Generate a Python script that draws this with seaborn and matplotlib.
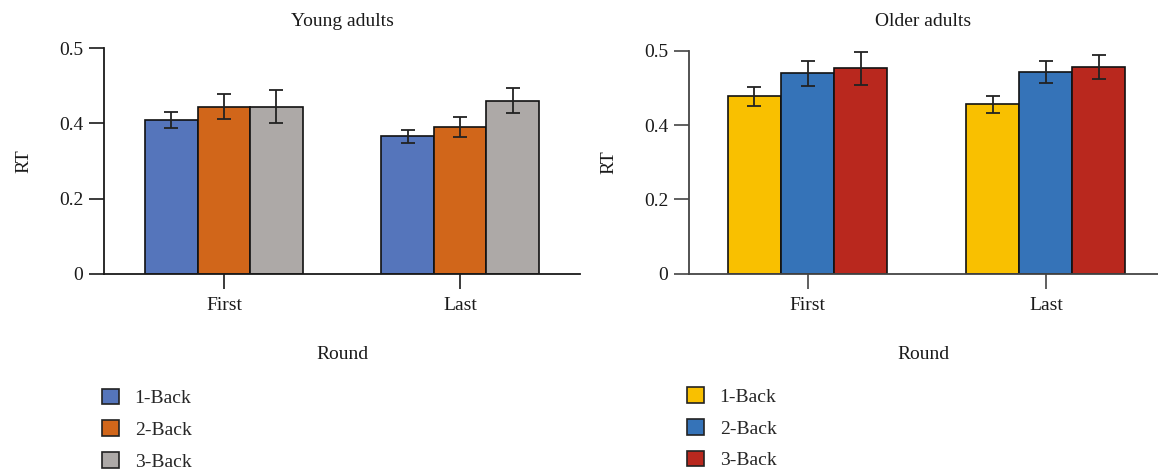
import numpy as np
import pandas as pd
import matplotlib
matplotlib.use("Agg")
import matplotlib.pyplot as plt
from matplotlib.patches import Patch
from matplotlib.ticker import FixedLocator, FuncFormatter
import seaborn as sns

# ---- data -------------------------------------------------------------
rounds = ["First", "Last"]
tasks = ["1-Back", "2-Back", "3-Back"]

# mean reaction time per task (rows) and round (columns)
young_rt = [[0.368, 0.329], [0.400, 0.351], [0.400, 0.414]]
young_err = [[0.020, 0.016], [0.030, 0.024], [0.039, 0.030]]
older_rt = [[0.430, 0.410], [0.485, 0.489], [0.498, 0.501]]
older_err = [[0.023, 0.020], [0.031, 0.027], [0.040, 0.029]]

young_colors = ["#5575BB", "#D1661A", "#ADA9A7"]
older_colors = ["#F9C000", "#3573B8", "#B9281E"]

y_ticks = [0, 0.18, 0.36, 0.54]

# ---- style ------------------------------------------------------------
sns.set_theme(style="ticks")
plt.rcParams["font.family"] = ["Liberation Serif", "DejaVu Serif"]
FS = 14


def frame(rt, err):
    rows = []
    for ti, t in enumerate(tasks):
        for ri, r in enumerate(rounds):
            rows.append({"Round": r, "Task": t, "RT": rt[ti][ri], "err": err[ti][ri]})
    return pd.DataFrame(rows)


def panel(ax, df, colors, title, xlim, spine_col, title_pad):
    sns.barplot(data=df, x="Round", y="RT", hue="Task", order=rounds,
                hue_order=tasks, palette=colors, saturation=1,
                edgecolor="#111111", linewidth=1.2, width=0.667,
                errorbar=None, legend=False, ax=ax)
    # error bars placed on the drawn bars
    bars = sorted(ax.patches, key=lambda p: p.get_x())
    errs = []
    for r in rounds:
        for t in tasks:
            errs.append(df[(df.Round == r) & (df.Task == t)]["err"].iloc[0])
    xs = [b.get_x() + b.get_width() / 2 for b in bars]
    hs = [b.get_height() for b in bars]
    ax.errorbar(xs, hs, yerr=errs, fmt="none", ecolor="#222222",
                elinewidth=1.3, capsize=5, capthick=1.3, zorder=5)

    ax.set_xlim(*xlim)
    ax.set_ylim(0, y_ticks[-1])
    ax.yaxis.set_major_locator(FixedLocator(y_ticks))
    ax.yaxis.set_major_formatter(
        FuncFormatter(lambda v, _: "0" if v == 0 else f"{v:.1f}"))
    sns.despine(ax=ax)
    for s in ("left", "bottom"):
        ax.spines[s].set_color(spine_col)
        ax.spines[s].set_linewidth(1.3)
    ax.tick_params(axis="both", length=11, width=1.2, color=spine_col,
                   labelsize=FS, labelcolor="#1a1a1a")
    ax.tick_params(axis="x", pad=6)
    ax.tick_params(axis="y", pad=4)
    ax.set_xlabel("Round", fontsize=FS, labelpad=23, color="#1a1a1a")
    ax.set_ylabel("RT", fontsize=FS, labelpad=19, color="#1a1a1a")
    ax.set_title(title, fontsize=FS, pad=title_pad, color="#1a1a1a")

    handles = [Patch(facecolor=c, edgecolor="#222222", linewidth=1.2)
               for c in colors]
    ax.legend(handles, tasks, loc="upper left", bbox_to_anchor=(-0.005, -0.51),
              frameon=False, fontsize=FS, handlelength=0.9, handleheight=0.85,
              handletextpad=0.8, labelspacing=0.68, borderaxespad=0,
              borderpad=0)


fig = plt.figure(figsize=(11.58, 4.72), dpi=100)
ax1 = fig.add_axes([104 / 1158, 1 - 273.7 / 472, (580 - 104) / 1158, (273.7 - 48.3) / 472])
ax2 = fig.add_axes([689 / 1158, 1 - 273.7 / 472, (1158 - 689) / 1158, (273.7 - 50.7) / 472])

panel(ax1, frame(young_rt, young_err), young_colors, "Young adults",
      (-0.508, 1.508), "#1a1a1a", 16)
panel(ax2, frame(older_rt, older_err), older_colors, "Older adults",
      (-0.497, 1.47), "#444444", 18)

fig.savefig("out.png", dpi=100, facecolor="white")
